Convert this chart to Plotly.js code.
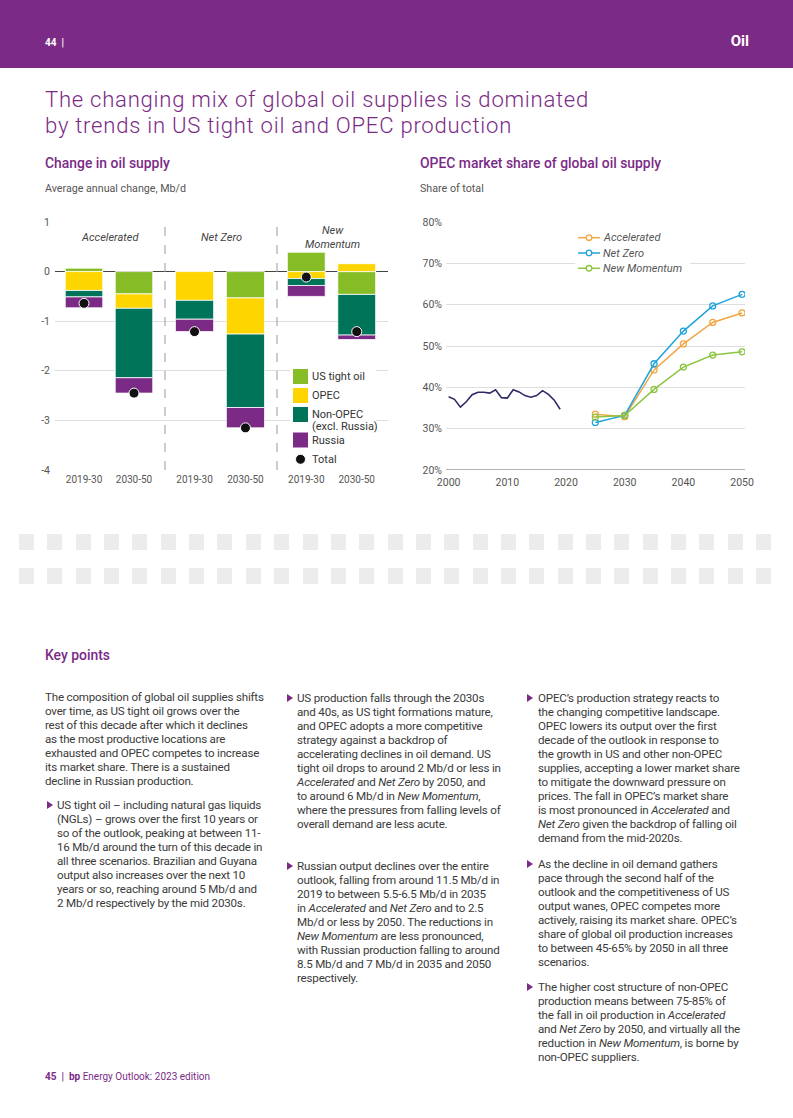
<!DOCTYPE html>
<html>
<head>
<meta charset="utf-8">
<script src="https://cdn.plot.ly/plotly-3.0.1.min.js"></script>
<style>
  html,body{margin:0;padding:0;background:#fff;}
  body{width:793px;height:1118px;position:relative;overflow:hidden;font-family:Roboto,"Liberation Sans",Arial,sans-serif;color:#3a3a3a;}
  .abs{position:absolute;white-space:nowrap;}
  .band{left:0;top:0;width:793px;height:68px;background:#7b2b86;}
  .pg{left:45px;top:37px;color:#fff;font-size:10px;font-weight:700;}
  .sec{right:44px;top:32px;color:#fff;font-size:15px;font-weight:700;}
  .title{left:45px;color:#7b2b86;font-size:22.1px;font-weight:300;line-height:24px;letter-spacing:0.74px;}
  .ctitle{color:#7b2b86;font-size:13.9px;font-weight:500;}
  .csub{color:#555;font-size:10.7px;}
  .kp{left:45px;top:647px;color:#7b2b86;font-size:13.9px;font-weight:500;}
  .para{font-size:11.6px;line-height:14px;letter-spacing:-0.2px;color:#3a3a3a;}
  .tri{position:absolute;width:0;height:0;border-left:6px solid #7b2b86;border-top:4.5px solid transparent;border-bottom:4.5px solid transparent;}
  .sq{position:absolute;width:15px;height:15.5px;background:#ececec;}
  .foot{left:45px;top:1071px;color:#7b2b86;font-size:10px;}
  #c1{position:absolute;left:0;top:200px;width:400px;height:300px;}
  #c2{position:absolute;left:400px;top:200px;width:393px;height:300px;}
</style>
</head>
<body>
<div class="abs band"></div>
<div class="abs pg">44 &nbsp;|</div>
<div class="abs sec">Oil</div>
<div class="abs title" style="top:87px;">The changing mix of global oil supplies is dominated</div>
<div class="abs title" style="top:113px;">by trends in US tight oil and OPEC production</div>

<div class="abs ctitle" style="left:45px;top:155px;">Change in oil supply</div>
<div class="abs csub" style="left:45px;top:182px;">Average annual change, Mb/d</div>
<div class="abs ctitle" style="left:420px;top:155px;">OPEC market share of global oil supply</div>
<div class="abs csub" style="left:420px;top:182px;">Share of total</div>

<div id="c1"></div>
<div id="c2"></div>

<div id="squares"></div>

<div class="abs kp">Key points</div>

<div class="abs para" style="left:45px;top:690px;">The composition of global oil supplies shifts<br>over time, as US tight oil grows over the<br>rest of this decade after which it declines<br>as the most productive locations are<br>exhausted and OPEC competes to increase<br>its market share. There is a sustained<br>decline in Russian production.</div>

<div class="tri" style="left:47px;top:801px;"></div>
<div class="abs para" style="left:57px;top:798px;">US tight oil – including natural gas liquids<br>(NGLs) – grows over the first 10 years or<br>so of the outlook, peaking at between 11-<br>16 Mb/d around the turn of this decade in<br>all three scenarios. Brazilian and Guyana<br>output also increases over the next 10<br>years or so, reaching around 5 Mb/d and<br>2 Mb/d respectively by the mid 2030s.</div>

<div class="tri" style="left:287px;top:694px;"></div>
<div class="abs para" style="left:297px;top:691px;">US production falls through the 2030s<br>and 40s, as US tight formations mature,<br>and OPEC adopts a more competitive<br>strategy against a backdrop of<br>accelerating declines in oil demand. US<br>tight oil drops to around 2 Mb/d or less in<br><i>Accelerated</i> and <i>Net Zero</i> by 2050, and<br>to around 6 Mb/d in <i>New Momentum</i>,<br>where the pressures from falling levels of<br>overall demand are less acute.</div>

<div class="tri" style="left:287px;top:862px;"></div>
<div class="abs para" style="left:297px;top:859px;">Russian output declines over the entire<br>outlook, falling from around 11.5 Mb/d in<br>2019 to between 5.5-6.5 Mb/d in 2035<br>in <i>Accelerated</i> and <i>Net Zero</i> and to 2.5<br>Mb/d or less by 2050. The reductions in<br><i>New Momentum</i> are less pronounced,<br>with Russian production falling to around<br>8.5 Mb/d and 7 Mb/d in 2035 and 2050<br>respectively.</div>

<div class="tri" style="left:527px;top:694px;"></div>
<div class="abs para" style="left:538px;top:691px;">OPEC’s production strategy reacts to<br>the changing competitive landscape.<br>OPEC lowers its output over the first<br>decade of the outlook in response to<br>the growth in US and other non-OPEC<br>supplies, accepting a lower market share<br>to mitigate the downward pressure on<br>prices. The fall in OPEC’s market share<br>is most pronounced in <i>Accelerated</i> and<br><i>Net Zero</i> given the backdrop of falling oil<br>demand from the mid-2020s.</div>

<div class="tri" style="left:527px;top:860px;"></div>
<div class="abs para" style="left:538px;top:857px;">As the decline in oil demand gathers<br>pace through the second half of the<br>outlook and the competitiveness of US<br>output wanes, OPEC competes more<br>actively, raising its market share. OPEC’s<br>share of global oil production increases<br>to between 45-65% by 2050 in all three<br>scenarios.</div>

<div class="tri" style="left:527px;top:983px;"></div>
<div class="abs para" style="left:538px;top:980px;">The higher cost structure of non-OPEC<br>production means between 75-85% of<br>the fall in oil production in <i>Accelerated</i><br>and <i>Net Zero</i> by 2050, and virtually all the<br>reduction in <i>New Momentum</i>, is borne by<br>non-OPEC suppliers.</div>

<div class="abs foot"><b>45 &nbsp;|&nbsp; bp</b> Energy Outlook: 2023 edition</div>

<script>
// ---------- Data: Change in oil supply (Mb/d, average annual change) ----------
const scenarios = ['Accelerated', 'Net Zero', 'New<br>Momentum'];
const periods = ['2019-30', '2030-50'];
// values per bar, ordered: Accelerated 2019-30, 2030-50, Net Zero 2019-30, 2030-50, New Momentum 2019-30, 2030-50
const usTightOil = [0.07, -0.45, 0.00, -0.53, 0.39, -0.46];
const opec       = [-0.38, -0.29, -0.58, -0.73, -0.14, 0.16];
const nonOpec    = [-0.13, -1.40, -0.38, -1.48, -0.14, -0.82];
const russia     = [-0.22, -0.31, -0.25, -0.41, -0.22, -0.09];
const total      = [-0.64, -2.45, -1.21, -3.15, -0.11, -1.21];
const supplyTickVals = [1, 0, -1, -2, -3, -4];
const supplyTickText = ['1', '0', '-1', '-2', '-3', '-4'];

// ---------- Data: OPEC market share of global oil supply (%) ----------
const histYears = [2000,2001,2002,2003,2004,2005,2006,2007,2008,2009,2010,2011,2012,2013,2014,2015,2016,2017,2018,2019];
const histShare = [37.7,37.1,35.2,36.5,38.2,38.8,38.8,38.6,39.4,37.5,37.4,39.4,38.9,38.0,37.6,38.0,39.2,38.3,36.9,34.7];
const projYears = [2025,2030,2035,2040,2045,2050];
const accelShare   = [33.5,32.9,44.2,50.5,55.7,58.0];
const netZeroShare = [31.5,33.2,45.7,53.6,59.7,62.5];
const newMomShare  = [32.8,33.2,39.5,44.9,47.8,48.6];
const shareYearTicks = [2000, 2010, 2020, 2030, 2040, 2050];

// ---------- Styles ----------
const FONT = 'Roboto, "Liberation Sans", Arial, sans-serif';
const purple = '#7b2b86';
const series = [
  {name: 'US tight oil', vals: usTightOil, color: '#86bc25'},
  {name: 'OPEC', vals: opec, color: '#ffd500'},
  {name: 'Non-OPEC<br>(excl. Russia)', vals: nonOpec, color: '#007459'},
  {name: 'Russia', vals: russia, color: purple}
];
const totalStyle = {name: 'Total', color: '#111111'};

// ---------- Chart 1 ----------
// page-pixel -> paper helper for chart 1 plot area (x 55..388, y 222..470)
const P1 = {x: px => (px - 55) / 333, y: py => (470 - py) / 248};

const traces1 = [];
const axSuffix = ['', '2', '3'];
series.forEach((s) => {
  scenarios.forEach((sc, gi) => {
    traces1.push({
      type: 'bar',
      x: periods,
      y: s.vals.slice(gi * 2, gi * 2 + 2),
      xaxis: 'x' + axSuffix[gi],
      yaxis: 'y',
      name: s.name,
      showlegend: false,
      marker: {color: s.color, line: {color: '#ffffff', width: 0.8}},
      hoverinfo: 'skip'
    });
  });
});
scenarios.forEach((sc, gi) => {
  traces1.push({
    type: 'scatter',
    mode: 'markers',
    x: periods,
    y: total.slice(gi * 2, gi * 2 + 2),
    xaxis: 'x' + axSuffix[gi],
    yaxis: 'y',
    name: totalStyle.name,
    showlegend: false,
    marker: {color: totalStyle.color, size: 10, line: {color: '#ffffff', width: 1}},
    hoverinfo: 'skip'
  });
});

const doms = [[0, 0.3303], [0.3303, 0.6667], [0.6667, 1]];
const layout1 = {
  width: 400, height: 300,
  margin: {l: 55, r: 12, t: 22, b: 30},
  paper_bgcolor: 'rgba(0,0,0,0)', plot_bgcolor: 'rgba(0,0,0,0)',
  barmode: 'relative', bargap: 0.25,
  showlegend: false,
  font: {family: FONT, size: 10, color: '#555'},
  yaxis: {
    range: [-4, 1], tickvals: supplyTickVals, ticktext: supplyTickText, anchor: 'x',
    showgrid: true, gridcolor: '#dedede', gridwidth: 1,
    zeroline: true, zerolinecolor: '#444', zerolinewidth: 1,
    showline: false, ticks: '', ticklabelstandoff: 4,
    tickfont: {size: 10.5, color: '#555'}
  },
  shapes: [],
  annotations: []
};
scenarios.forEach((sc, gi) => {
  layout1['xaxis' + axSuffix[gi]] = {
    domain: doms[gi], anchor: 'y', type: 'category',
    range: [-0.58, 1.62],
    showgrid: false, zeroline: false, showline: false, ticks: '', ticklabelstandoff: 2,
    tickfont: {size: 10, color: '#555'}
  };
  layout1.annotations.push({
    xref: 'x' + axSuffix[gi] + ' domain', yref: 'y',
    x: 0.5, y: 0.69, xanchor: 'center', yanchor: 'middle',
    text: '<i>' + sc + '</i>', showarrow: false,
    font: {family: FONT, size: 11, color: '#444'}
  });
  if (gi > 0) {
    layout1.shapes.push({
      type: 'line', xref: 'paper', yref: 'y',
      x0: doms[gi][0], x1: doms[gi][0], y0: -4, y1: 1,
      line: {color: '#9a9a9a', width: 1, dash: 'dash'}
    });
  }
});
// custom legend (white backing box, swatches, labels)
layout1.shapes.push({type: 'rect', xref: 'paper', yref: 'paper', layer: 'above',
  x0: P1.x(290), x1: P1.x(376), y0: P1.y(469), y1: P1.y(363),
  fillcolor: '#ffffff', line: {width: 0}});
const leg1Rows = [376.5, 395.5, 414.5, 440];
series.forEach((s, i) => {
  const cy = leg1Rows[i];
  layout1.shapes.push({type: 'rect', xref: 'paper', yref: 'paper', layer: 'above',
    x0: P1.x(293), x1: P1.x(308), y0: P1.y(cy + 7.5), y1: P1.y(cy - 7.5),
    fillcolor: s.color, line: {width: 0}});
  s.name.split('<br>').forEach((ln, li) => {
    layout1.annotations.push({xref: 'paper', yref: 'paper', x: P1.x(310), y: P1.y(cy + li * 12),
      xanchor: 'left', yanchor: 'middle', showarrow: false, text: ln,
      font: {family: FONT, size: 11, color: '#333'}});
  });
});
layout1.shapes.push({type: 'circle', xref: 'paper', yref: 'paper', layer: 'above',
  x0: P1.x(295.5), x1: P1.x(305.5), y0: P1.y(464.3), y1: P1.y(454.3),
  fillcolor: totalStyle.color, line: {color: '#ffffff', width: 1}});
layout1.annotations.push({xref: 'paper', yref: 'paper', x: P1.x(310), y: P1.y(459.3),
  xanchor: 'left', yanchor: 'middle', showarrow: false, text: totalStyle.name,
  font: {family: FONT, size: 11, color: '#333'}});

Plotly.newPlot('c1', traces1, layout1, {staticPlot: true, displayModeBar: false});

// ---------- Chart 2 ----------
// page-pixel -> paper helper for chart 2 plot area (x 446..745, y 222..470)
const P2 = {x: px => (px - 446) / 299, y: py => (470 - py) / 248};
const scen2 = [
  {name: 'Accelerated', y: accelShare, color: '#f0a744'},
  {name: 'Net Zero', y: netZeroShare, color: '#1fa3dc'},
  {name: 'New Momentum', y: newMomShare, color: '#8cc540'}
];
const traces2 = [
  {type: 'scatter', mode: 'lines', x: histYears, y: histShare, showlegend: false,
   line: {color: '#2d2a66', width: 1.6}, hoverinfo: 'skip'}
];
scen2.forEach(s => traces2.push({
  type: 'scatter', mode: 'lines+markers', name: s.name, x: projYears, y: s.y,
  line: {color: s.color, width: 1.5},
  marker: {symbol: 'circle-open', size: 6, color: s.color, line: {width: 1.3, color: s.color}},
  showlegend: false, hoverinfo: 'skip'
}));
const layout2 = {
  width: 393, height: 300,
  margin: {l: 46, r: 48, t: 22, b: 30},
  paper_bgcolor: 'rgba(0,0,0,0)', plot_bgcolor: 'rgba(0,0,0,0)',
  showlegend: false,
  font: {family: FONT, size: 10, color: '#555'},
  xaxis: {
    range: [1999.55, 2050.5], tickvals: shareYearTicks,
    showgrid: false, zeroline: false, showline: false, ticks: '', ticklabelstandoff: 4,
    tickfont: {size: 10.5, color: '#555'}
  },
  yaxis: {
    range: [20, 80], dtick: 10, ticksuffix: '%',
    showgrid: true, gridcolor: '#dedede', gridwidth: 1,
    zeroline: false, showline: false, ticks: '', ticklabelstandoff: 3,
    tickfont: {size: 10.5, color: '#555'}
  },
  shapes: [{type: 'line', xref: 'paper', yref: 'y', x0: 0, x1: 1, y0: 20, y1: 20,
            line: {color: '#666', width: 1.2}}],
  annotations: []
};
// custom legend
layout2.shapes.push({type: 'rect', xref: 'paper', yref: 'paper', layer: 'above',
  x0: P2.x(575), x1: P2.x(690), y0: P2.y(276), y1: P2.y(229),
  fillcolor: '#ffffff', line: {width: 0}});
const leg2Rows = [237.7, 253, 268.3];
scen2.forEach((s, i) => {
  const cy = leg2Rows[i];
  layout2.shapes.push({type: 'line', xref: 'paper', yref: 'paper', layer: 'above',
    x0: P2.x(578), x1: P2.x(600), y0: P2.y(cy), y1: P2.y(cy),
    line: {color: s.color, width: 1.5}});
  layout2.shapes.push({type: 'circle', xref: 'paper', yref: 'paper', layer: 'above',
    x0: P2.x(586.2), x1: P2.x(591.8), y0: P2.y(cy + 2.8), y1: P2.y(cy - 2.8),
    fillcolor: '#ffffff', line: {color: s.color, width: 1.3}});
  layout2.annotations.push({xref: 'paper', yref: 'paper', x: P2.x(601), y: P2.y(cy),
    xanchor: 'left', yanchor: 'middle', showarrow: false, text: '<i>' + s.name + '</i>',
    font: {family: FONT, size: 11, color: '#555'}});
});
Plotly.newPlot('c2', traces2, layout2, {staticPlot: true, displayModeBar: false});

// ---------- Decorative grey squares band ----------
const sqHost = document.getElementById('squares');
const sqRows = [534, 568];
const sqCount = 27;
sqRows.forEach(top => {
  for (let i = 0; i < sqCount; i++) {
    const d = document.createElement('div');
    d.className = 'sq';
    d.style.left = (19 + i * 28.35) + 'px';
    d.style.top = top + 'px';
    sqHost.appendChild(d);
  }
});
</script>
</body>
</html>
